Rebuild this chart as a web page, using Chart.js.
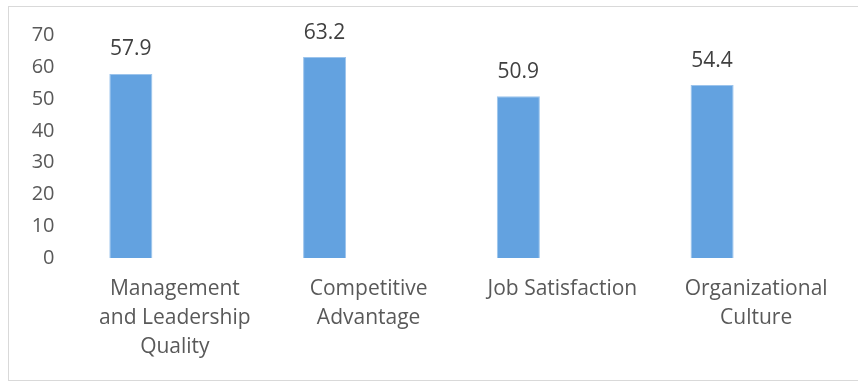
<!DOCTYPE html>
<html lang="en">
<head>
    <meta charset="UTF-8">
    <title>Survey Scores</title>
    <script src="https://cdn.jsdelivr.net/npm/chart.js"></script>
    <style>
        html, body { margin: 0; padding: 0; background: #fff; }
        .wrap { position: relative; width: 858px; height: 383px; }
        .frame {
            position: absolute; left: 8px; top: 6px; width: 870px; height: 375px;
            border: 1px solid #d9d9d9; box-sizing: border-box;
        }
        canvas { position: absolute; left: 0; top: 0; }
    </style>
</head>
<body>
    <div class="wrap">
        <div class="frame"></div>
        <canvas id="scoreChart" width="858" height="383"></canvas>
    </div>
    <script>
        const categorias = [
            ["Management", "and Leadership", "Quality"],
            ["Competitive", "Advantage"],
            "Job Satisfaction",
            ["Organizational", "Culture"]
        ];
        const valores = [57.9, 63.2, 50.9, 54.4];
        // segunda série sem valores: só reserva o espaço à direita de cada barra
        const vazia = [null, null, null, null];
        const eixoY = { min: 0, max: 70, passo: 10 };

        // escreve o valor acima de cada barra
        const rotulosValores = {
            id: "rotulosValores",
            afterDatasetsDraw(chart) {
                const ctx = chart.ctx;
                const meta = chart.getDatasetMeta(0);
                ctx.save();
                ctx.font = "21px 'Open Sans'";
                ctx.fillStyle = "#404040";
                ctx.textAlign = "center";
                ctx.textBaseline = "middle";
                meta.data.forEach((bar, i) => {
                    ctx.fillText(valores[i].toFixed(1), bar.x, bar.y - 24.5);
                });
                ctx.restore();
            }
        };

        new Chart(document.getElementById("scoreChart").getContext("2d"), {
            type: "bar",
            data: {
                labels: categorias,
                datasets: [{
                    data: valores,
                    backgroundColor: "#63a2e0",
                    borderColor: "#9cc4ec",
                    borderWidth: 1,
                    categoryPercentage: 0.909,
                    barPercentage: 0.489
                }, {
                    data: vazia,
                    backgroundColor: "transparent",
                    categoryPercentage: 0.909,
                    barPercentage: 0.489
                }]
            },
            options: {
                responsive: false,
                animation: false,
                layout: { padding: { left: 0, right: 5, top: 35, bottom: 5.5 } },
                plugins: { legend: { display: false }, tooltip: { enabled: false } },
                scales: {
                    x: {
                        grid: { display: false, drawTicks: false },
                        border: { display: false },
                        ticks: {
                            color: "#595959",
                            font: { family: "'Open Sans'", size: 21, lineHeight: 1.39 },
                            padding: 16,
                            maxRotation: 0,
                            autoSkip: false
                        }
                    },
                    y: {
                        min: eixoY.min,
                        max: eixoY.max,
                        afterFit(scale) { scale.width = 78; },
                        grid: { display: false, drawTicks: false },
                        border: { display: false },
                        ticks: {
                            stepSize: eixoY.passo,
                            color: "#595959",
                            font: { family: "'Open Sans'", size: 20 },
                            padding: 23.5
                        }
                    }
                }
            },
            plugins: [rotulosValores]
        });
    </script>
</body>
</html>
